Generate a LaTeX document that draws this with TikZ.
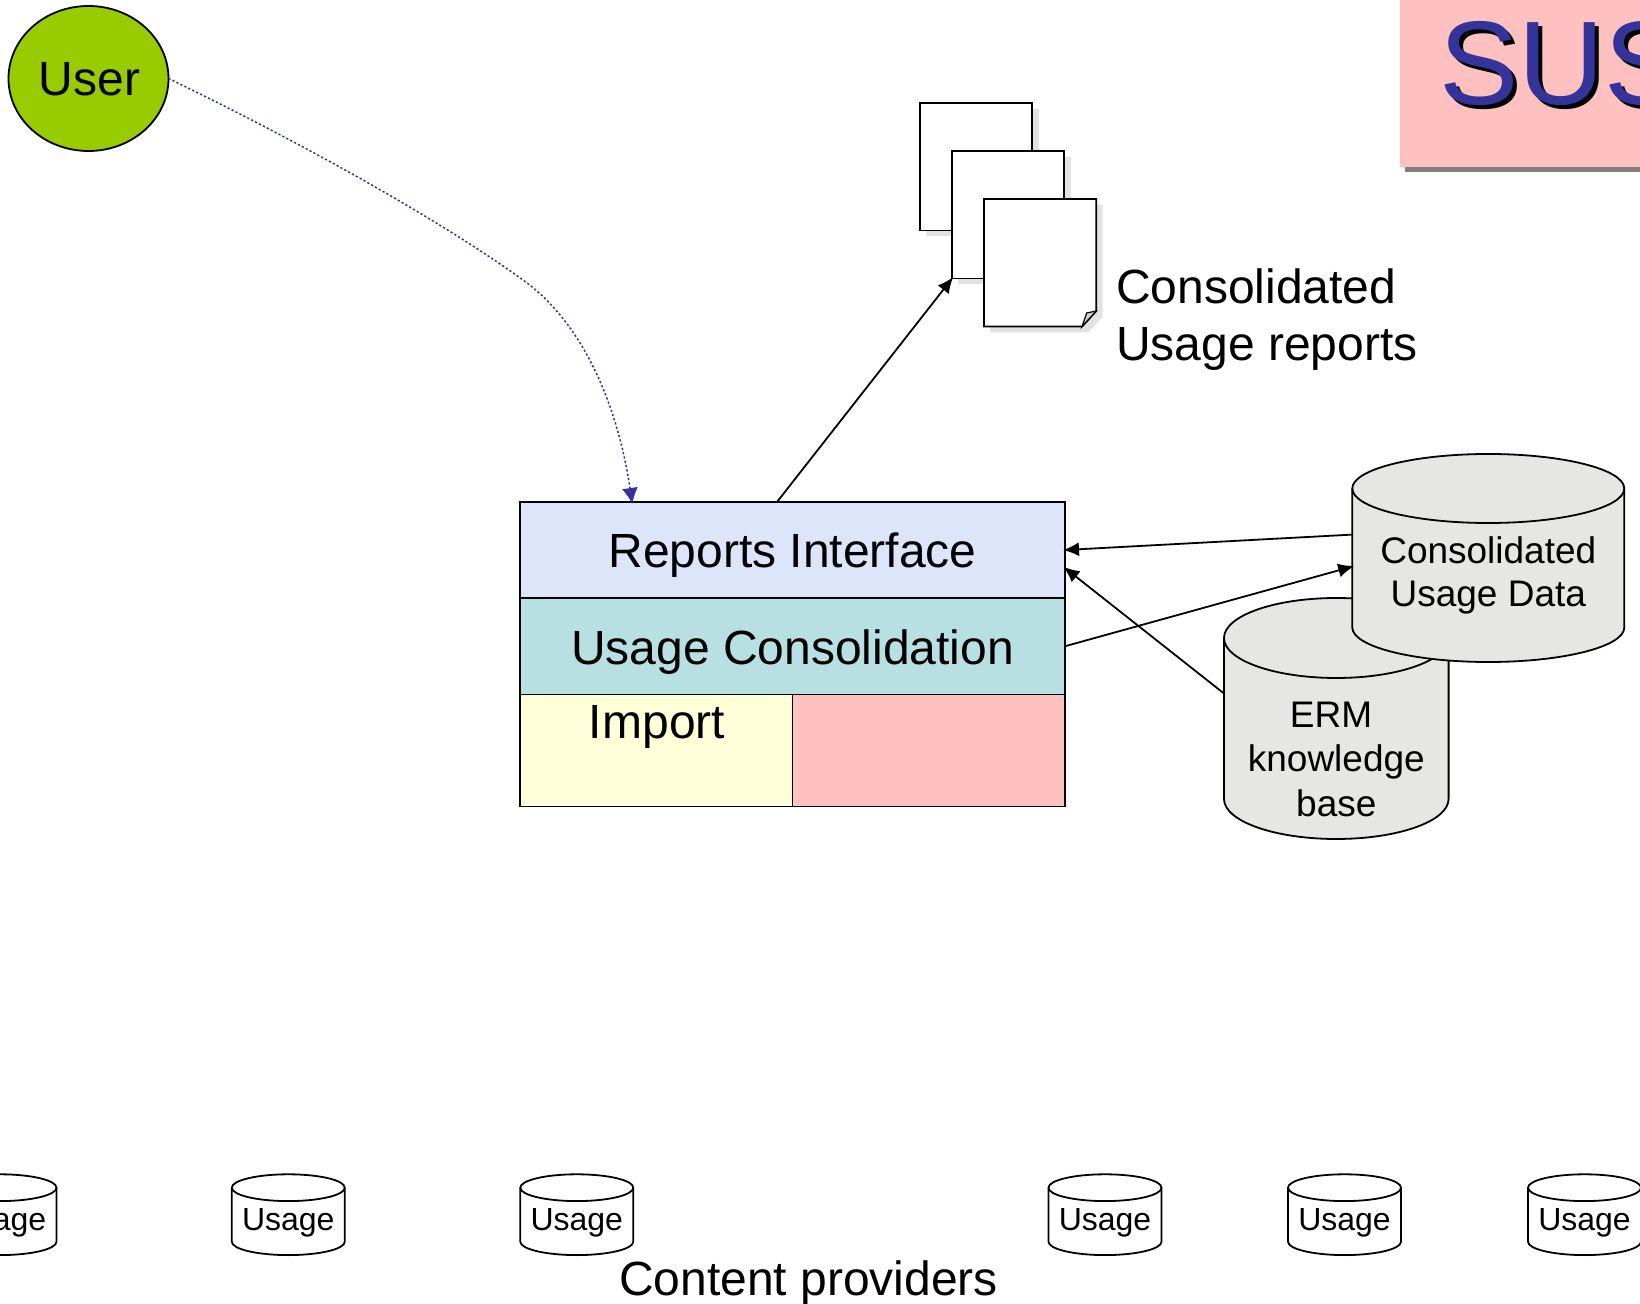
\documentclass[tikz,border=0pt]{standalone}
\usepackage{fontspec}
\setmainfont{Liberation Sans}
\usetikzlibrary{arrows.meta,calc,shapes.geometric}
\definecolor{bluepale}{HTML}{DDE5FB}
\definecolor{tealpale}{HTML}{B8E0E2}
\definecolor{yellowpale}{HTML}{FFFFD9}
\definecolor{pinkpale}{HTML}{FFC0C0}
\definecolor{cylgrey}{HTML}{E6E6E4}
\definecolor{sheetshadow}{HTML}{E2E2E2}
\definecolor{userlime}{HTML}{99CC00}
\definecolor{titleblue}{HTML}{333399}
\def\px{0.5pt}
\newcommand{\dbcyl}[9]{% name, cx, ytop, ybottom, rx, ry, fill, text y, text
  \path[cylline,fill=#7] (#2-#5,#3) -- (#2-#5,#4)
     arc[start angle=180,end angle=360,x radius={#5*\px},y radius={#6*\px}]
     -- (#2+#5,#3)
     arc[start angle=0,end angle=180,x radius={#5*\px},y radius={#6*\px}] -- cycle;
  \draw[cylline] (#2-#5,#3)
     arc[start angle=180,end angle=360,x radius={#5*\px},y radius={#6*\px}];
  \node[cyltext,font=\cylfont,minimum width={2*#5*\px}] (#1) at (#2,#8) {#9};
}
\tikzset{
  x=0.5pt,y=-0.5pt,
  every node/.style={outer sep=0pt},
  outline/.style={draw=black,line width=0.9pt},
  cylline/.style={draw=black,line width=0.9pt},
  cyltext/.style={inner sep=0pt,align=center,text=black},
  band/.style={outline,inner sep=0pt,text height=20pt,text depth=2pt,font=\fontsize{24}{28}\selectfont},
  sheet/.style={outline,fill=white,inner sep=0pt,minimum width=56.1pt,minimum height=63.8pt},
  conn/.style={draw=black,line width=0.9pt,shorten >=-1pt,-{Latex[length=8pt,width=7pt]}},
  label/.style={inner sep=0pt,font=\fontsize{24}{28.75}\selectfont},
}
\begin{document}
\begin{tikzpicture}
\useasboundingbox (0,0) rectangle (1640,1304);
% title panel
\fill[black!50] (1405,0) rectangle (1640,172);
\node[fill=pinkpale,inner sep=0pt,anchor=north west,minimum width=120pt,minimum height=83.5pt] (titlebox) at (1400,0) {};
\node[anchor=base west,inner sep=0pt,text=black,font=\fontsize{59.5}{60}\selectfont] (titleshadow) at (1443,109) {SUS};
\node[anchor=base west,inner sep=0pt,text=titleblue,font=\fontsize{59.5}{60}\selectfont] (title) at (1439,105) {SUS};
% user
\node[draw=black,line width=0.9pt,fill=userlime,ellipse,inner sep=0pt,minimum width=80pt,minimum height=72.5pt,text height=17.8pt,text depth=0.6pt,font=\fontsize{24}{28}\selectfont] (user) at (88.5,78.5) {\kern1pt User};
% stacked report sheets
\fill[sheetshadow] (926,109) rectangle (1038.5,236.5);
\node[sheet,anchor=north west] (sheetA) at (920,103) {};
\fill[sheetshadow] (958,157) rectangle (1070.5,284.5);
\node[sheet,anchor=north west] (sheetB) at (952,151) {};
\fill[sheetshadow] (990,205) -- (1102.5,205) -- (1102.5,317) -- (1088,332.5) -- (990,332.5) -- cycle;
\node[anchor=north west,inner sep=0pt,minimum width=56.1pt,minimum height=63.8pt] (sheetC) at (984,199) {};
\draw[outline,fill=white] (sheetC.north west) -- (sheetC.north east) -- (1096.2,311) -- (1082,326.6) -- (sheetC.south west) -- cycle;
\draw[outline,fill=black!18,line width=0.6pt] (1082,326.6) -- (1086.7,313) -- (1096.2,311) -- cycle;
\node[label,anchor=base west,align=left] (reportslabel) at (1116,360.6) {Consolidated\\Usage reports};
% main block
\node[band,fill=bluepale,minimum width=272.5pt,minimum height=48pt] (reports) at (792.5,550) {Reports Interface};
\node[band,fill=tealpale,minimum width=272.5pt,minimum height=48.25pt] (consol) at (792.5,646.25) {Usage Consolidation};
\node[outline,inner sep=0pt,fill=yellowpale,minimum width=136.25pt,minimum height=56pt,anchor=north west] (import) at (520,694.5) {};
\node[outline,inner sep=0pt,fill=pinkpale,minimum width=136.25pt,minimum height=56pt,anchor=north east] (pinkcell) at (1065,694.5) {};
\node[label,anchor=base] (importlabel) at (657,739) {Import};
% databases
\def\cylfont{\fontsize{18.5}{22.25}\selectfont}
\dbcyl{erm}{1336.3}{638}{799}{112.3}{40}{cylgrey}{759}{ERM\kern5.2pt\\knowledge\\base}
\def\cylfont{\fontsize{18.5}{21.5}\selectfont}
\dbcyl{cons}{1488.3}{488.5}{627.5}{136}{34.5}{cylgrey}{575.6}{Consolidated\\Usage Data}
% usage stores
\def\cylfont{\fontsize{16}{18}\selectfont}
\dbcyl{uA}{0}{1187.7}{1241.7}{56.5}{13.4}{white}{1222.5}{Usage}
\dbcyl{uB}{288.3}{1187.7}{1241.7}{56.5}{13.4}{white}{1222.5}{Usage}
\dbcyl{uC}{576.8}{1187.7}{1241.7}{56.5}{13.4}{white}{1222.5}{Usage}
\dbcyl{uD}{1105}{1187.7}{1241.7}{56.5}{13.4}{white}{1222.5}{Usage}
\dbcyl{uE}{1344.5}{1187.7}{1241.7}{56.5}{13.4}{white}{1222.5}{Usage}
\dbcyl{uF}{1584.5}{1187.7}{1241.7}{56.5}{13.4}{white}{1222.5}{Usage}
\node[label,anchor=base] (providers) at (808.5,1295) {Content providers};
% connectors
\draw[conn] ($(reports.north west)+(257,0)$) -- (sheetB.south west);
\draw[conn] ($(cons.west)+(0,-41)$) -- (reports.east);
\draw[conn] (consol.east) -- ($(cons.west)+(0,-9)$);
\draw[conn] ($(erm.west)+(0,-65.5)$) -- ($(reports.east)+(0,18)$);
\draw[line width=0.75pt,draw=titleblue,dash pattern=on 1.1pt off 1.1pt,shorten >=-1pt,-{Latex[length=8pt,width=8pt]}] (user.east) .. controls (300,142) and (440,220) .. (523,280) .. controls (590,328) and (620,420) .. ($(reports.north west)+(112,0)$);
\end{tikzpicture}
\end{document}
